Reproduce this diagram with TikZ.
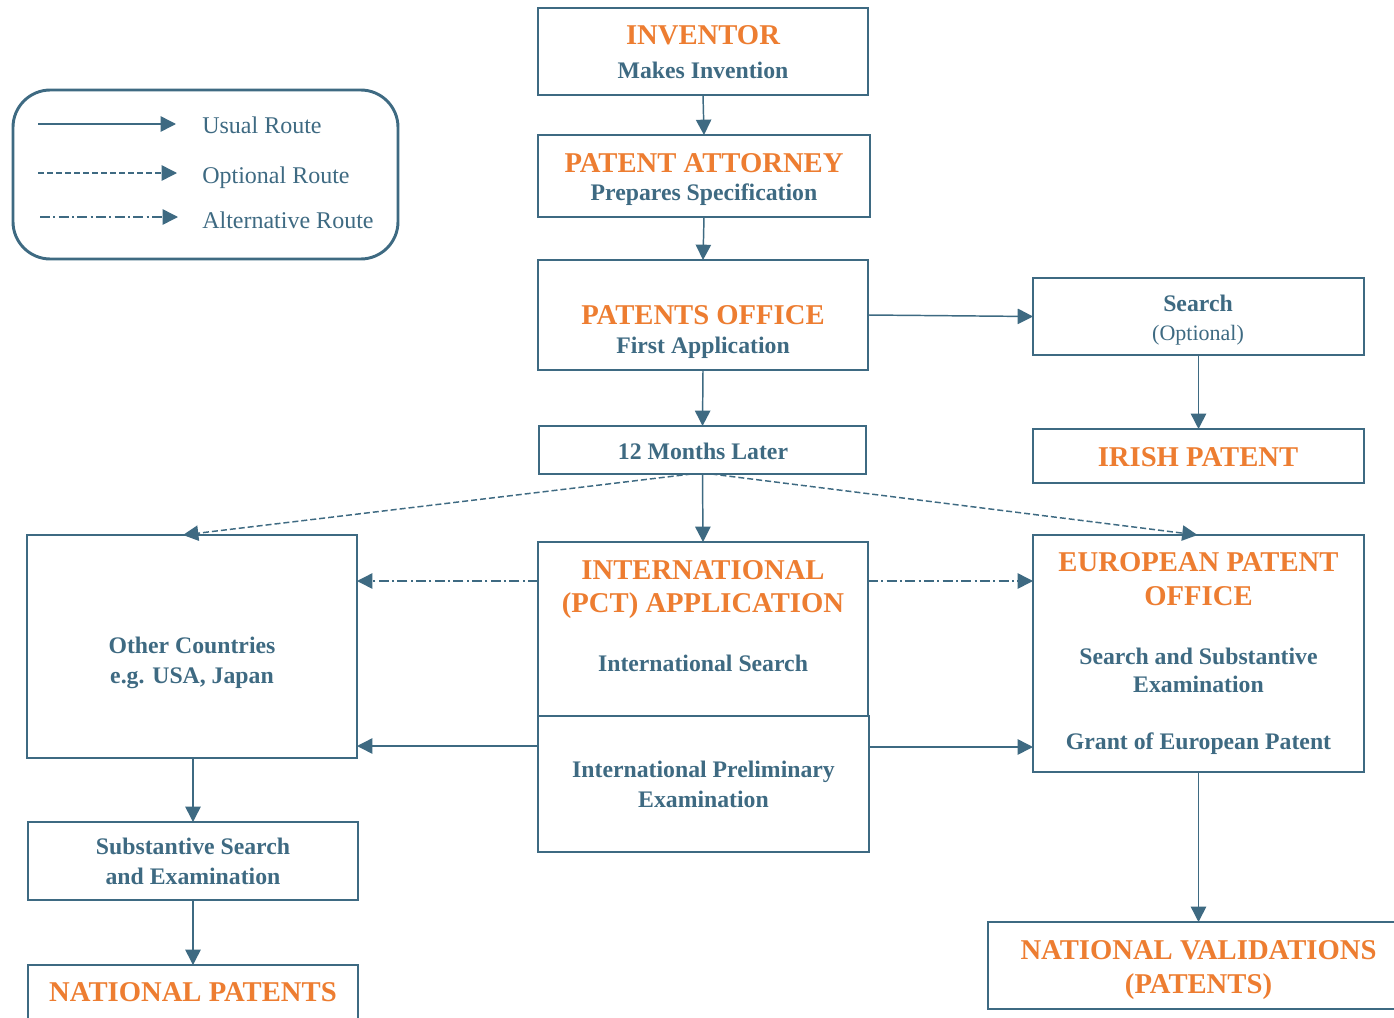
\documentclass[tikz,border=0pt]{standalone}
\usepackage{fontspec}
\setmainfont{Liberation Serif}
\usetikzlibrary{arrows.meta,fit,calc}
\definecolor{bl}{HTML}{3E6A82}
\definecolor{orng}{HTML}{ED7D31}
\begin{document}
\begin{tikzpicture}[x=0.75pt,y=-0.75pt,
  box/.style={draw=bl, line width=1.5pt, inner sep=0pt, outer sep=0pt},
  ttl/.style={text=orng, font=\fontsize{21.5}{25}\selectfont\bfseries, inner sep=0pt, text height=14.2pt, text depth=0pt},
  sub/.style={text=bl, font=\fontsize{17.8}{21}\selectfont\bfseries, inner sep=0pt, text height=11.8pt, text depth=0pt},
  reg/.style={text=bl, font=\fontsize{16.5}{20}\selectfont, inner sep=0pt, text height=10.9pt, text depth=0pt},
  leg/.style={text=bl, font=\fontsize{18}{22}\selectfont, inner sep=0pt, text height=11.9pt, text depth=0pt, anchor=west},
  arr/.style={draw=bl, line width=1.1pt, -{Triangle[length=11.5pt,width=11.5pt]}},
  opt/.style={arr, dash pattern=on 4.5pt off 2.25pt},
  alt/.style={arr, dash pattern=on 7.5pt off 2.5pt on 1.5pt off 2.5pt}]
\useasboundingbox (0,0) rectangle (1394,1017);
\fill[white] (0,0) rectangle (1394,1017);

% legend
\draw[bl, line width=2.2pt, rounded corners=28] (13,90) rectangle (398,259);
\coordinate (l1a) at (38,124); \coordinate (l1b) at (176,124);
\coordinate (l2a) at (38,173); \coordinate (l2b) at (177,173);
\coordinate (l3a) at (40,217); \coordinate (l3b) at (178,217);
\draw[arr] (l1a) -- (l1b);
\draw[opt] (l2a) -- (l2b);
\draw[alt] (l3a) -- (l3b);
\node[leg] (lt1) at (202,125.5) {Usual Route};
\node[leg] (lt2) at (202,175.5) {Optional Route};
\node[leg] (lt3) at (202,220.5) {Alternative Route};

% boxes
\node[box, fit={(538,8)(868,95)}] (inv) {};
\node[box, fit={(538,135)(870,217)}] (att) {};
\node[box, fit={(538,260)(868,370)}] (off) {};
\node[box, fit={(539,426)(866,474)}] (mon) {};
\node[box, fit={(1033,278)(1364,355)}] (srch) {};
\node[box, fit={(1033,429)(1364,483)}] (irish) {};
\node[box, fit={(27,535)(357,758)}] (oth) {};
\node[box, fit={(538,542)(868,716)}] (intl) {};
\node[box, fit={(538,716)(869,852)}] (prel) {};
\node[box, fit={(1033,535)(1364,772)}] (epo) {};
\node[box, fit={(28,822)(358,900)}] (subs) {};
\node[box, fit={(28,965)(358,1040)}] (natp) {};
\node[box, fit={(988,922)(1397,1009)}] (natv) {};

% texts
\node[ttl] (t1) at (703,35) {INVENTOR};
\node[sub] (t2) at (703,70.5) {Makes Invention};
\node[ttl] (t3) at (704,163) {PATENT ATTORNEY};
\node[sub] (t4) at (704,192.5) {Prepares Specification};
\node[ttl] (t5) at (703,315.5) {PATENTS OFFICE};
\node[sub] (t6) at (703,345.5) {First Application};
\node[sub] (t7) at (703,451.3) {12 Months Later};
\node[sub] (t8) at (1198,303.5) {Search};
\node[reg] (t9) at (1198,333.7) {(Optional)};
\node[ttl] (t10) at (1198,456.7) {IRISH PATENT};
\node[sub] (t11) at (192,646) {Other Countries};
\node[sub] (t12) at (192,675.3) {e.g. USA, Japan};
\node[ttl] (t13) at (703,570) {INTERNATIONAL};
\node[ttl] (t14) at (703,603.5) {(PCT) APPLICATION};
\node[sub] (t15) at (703,663.3) {International Search};
\node[sub] (t16) at (703.5,770) {International Preliminary};
\node[sub] (t17) at (703.5,799.5) {Examination};
\node[ttl] (t18) at (1198.5,562.2) {EUROPEAN PATENT};
\node[ttl] (t19) at (1198.5,596.5) {OFFICE};
\node[sub] (t20) at (1198.5,656.7) {Search and Substantive};
\node[sub] (t21) at (1198.5,685) {Examination};
\node[sub] (t22) at (1198.5,742) {Grant of European Patent};
\node[sub] (t23) at (193,846.7) {Substantive Search};
\node[sub] (t24) at (193,876.3) {and Examination};
\node[ttl] (t25) at (193,992.5) {NATIONAL PATENTS};
\node[ttl] (t26) at (1198.5,950) {NATIONAL VALIDATIONS};
\node[ttl] (t27) at (1198.5,984.5) {(PATENTS)};

% connectors
\draw[arr] (inv.south) -- (att.north);
\draw[arr] (att.south) -- (off.north);
\draw[arr] (off.south) -- (mon.north);
\draw[arr] (off.east) -- (srch.west);
\draw[arr] (srch.south) -- (irish.north);
\draw[arr] (mon.south) -- (intl.north);
\draw[opt] ($(mon.south)+(-11,0)$) -- ($(oth.north)+(-9,0)$);
\draw[opt] ($(mon.south)+(9,0)$) -- ($(epo.north)+(-1,0)$);
\draw[alt] ($(intl.north west)+(0,39)$) -- ($(oth.north east)+(0,46)$);
\draw[alt] ($(intl.north east)+(0,39)$) -- ($(epo.north west)+(0,46)$);
\draw[arr] ($(prel.north west)+(0,30)$) -- ($(oth.north east)+(0,211)$);
\draw[arr] ($(prel.north east)+(0,31)$) -- ($(epo.north west)+(0,212)$);
\draw[arr] (subs.north |- oth.south) -- (subs.north);
\draw[arr] (subs.south) -- (natp.north);
\draw[arr] (epo.south) -- ($(natv.north west)!(epo.south)!(natv.north east)$);
\end{tikzpicture}
\end{document}
